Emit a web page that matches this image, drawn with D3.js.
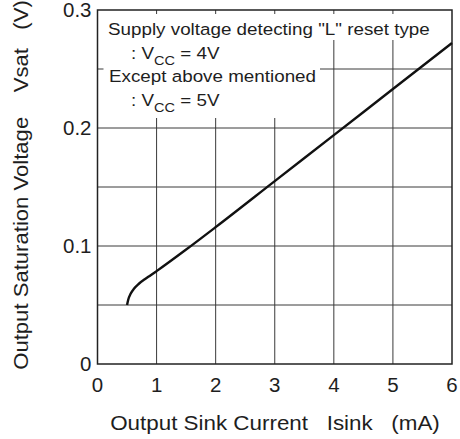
<!DOCTYPE html>
<html><head><meta charset="utf-8">
<script src="https://cdn.jsdelivr.net/npm/d3@7"></script>
<style>
html,body{margin:0;padding:0;background:#fff;}
text{font-family:"Liberation Sans",Arial,sans-serif;fill:#1e1e1e;white-space:pre;}
</style></head>
<body><svg id="c" width="460" height="439"></svg>
<script>
const currentMA = [0.5, 0.52, 0.56, 0.62, 0.7, 0.8, 0.9, 1.0, 1.5, 2, 3, 4, 5, 6];
const vsatV     = [0.050, 0.0545, 0.0595, 0.0640, 0.0680, 0.0718, 0.0752, 0.0787, 0.097, 0.116, 0.155, 0.194, 0.233, 0.272];
const xTicks = [0, 1, 2, 3, 4, 5, 6];
const yTicks = [0, 0.1, 0.2, 0.3];
const yTickLabels = ["0", "0.1", "0.2", "0.3"];
const yGrid = [0.05, 0.1, 0.15, 0.2, 0.25];
const noteLines = ['Supply voltage detecting "L" reset type', ': V|CC| = 4V', 'Except above mentioned', ': V|CC| = 5V'];
const xTitle = "Output Sink Current   Isink   (mA)";
const yTitle = "Output Saturation Voltage    Vsat   (V)";

const svg = d3.select("#c");
const L = 97.5, R = 452, T = 10, B = 364;
const x = d3.scaleLinear().domain([0, 6]).range([L, R]);
const y = d3.scaleLinear().domain([0, 0.3]).range([B, T]);

function addText(px, py, size, sx, anchor, rot) {
  const gg = svg.append("g").attr("transform", `translate(${px},${py}) rotate(${rot || 0}) scale(${sx},1)`);
  return gg.append("text").attr("x", 0).attr("y", 0).attr("font-size", size).attr("text-anchor", anchor || "start");
}

const g = svg.append("g");
// grid
g.selectAll(".vg").data(xTicks.slice(1, -1)).join("line")
  .attr("x1", d => x(d)).attr("x2", d => x(d)).attr("y1", T).attr("y2", B)
  .attr("stroke", "#3a3a3a").attr("stroke-width", 1);
g.selectAll(".hg").data(yGrid).join("line")
  .attr("x1", L).attr("x2", R).attr("y1", d => y(d)).attr("y2", d => y(d))
  .attr("stroke", "#3a3a3a").attr("stroke-width", 1);

// white boxes behind note
g.append("rect").attr("x", L + 2).attr("y", T + 4).attr("width", 344).attr("height", 26).attr("fill", "#fff");
g.append("rect").attr("x", L + 6).attr("y", T + 29).attr("width", 320 - L - 6).attr("height", 79).attr("fill", "#fff");

// frame
g.append("rect").attr("x", L).attr("y", T).attr("width", R - L).attr("height", B - T)
  .attr("fill", "none").attr("stroke", "#222").attr("stroke-width", 1.5);

// curve
const pts = currentMA.map((c, i) => [c, vsatV[i]]);
g.append("path").datum(pts)
  .attr("d", d3.line().x(d => x(d[0])).y(d => y(d[1])).curve(d3.curveMonotoneX))
  .attr("fill", "none").attr("stroke", "#111").attr("stroke-width", 2.4);

// tick labels
xTicks.forEach(d => addText(x(d), 392, 19.5, 1.05, "middle").text(d));
yTicks.forEach((d, i) => addText(91.5, y(d) + 7, 19.5, 1.05, "end").text(yTickLabels[i]));

// note
const noteX = [108, 131, 109, 131];
const noteY = [35, 59, 82, 106];
noteLines.forEach((s, i) => {
  const t = addText(noteX[i], noteY[i], 16.8, 1.12, "start");
  const parts = s.split("|");
  parts.forEach((p, j) => {
    const ts = t.append("tspan").text(p);
    if (j === 1) ts.attr("font-size", 13).attr("dy", 5.5);
    if (j === 2) ts.attr("dy", -5.5);
  });
});

// titles
addText(275, 430, 20, 1.12, "middle").text(xTitle);
addText(28, 185, 20, 1.105, "middle", -90).text(yTitle);
</script></body></html>
